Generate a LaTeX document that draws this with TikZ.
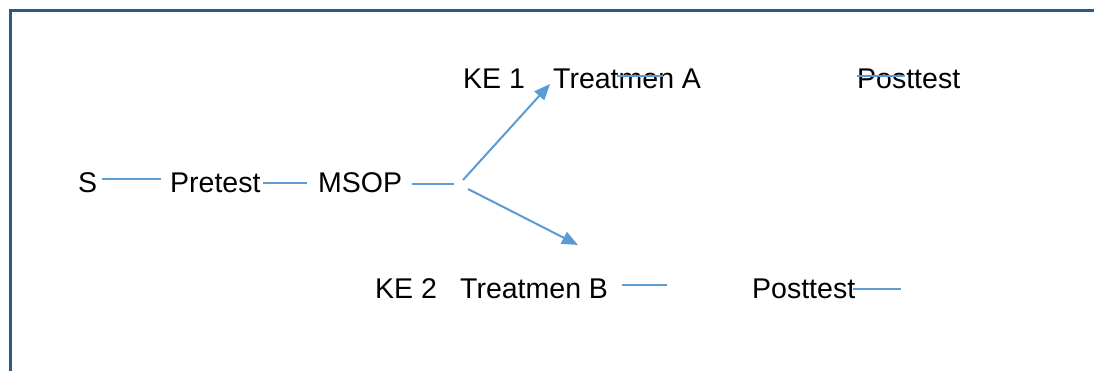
\documentclass[tikz,border=0pt]{standalone}
\usepackage{fontspec}
\setmainfont{Liberation Sans}
\usetikzlibrary{arrows.meta}
\definecolor{framecol}{RGB}{44,90,134}
\definecolor{linecol}{RGB}{91,155,213}
\begin{document}
\begin{tikzpicture}[x=1pt,y=-1pt,
  lbl/.style={anchor=base west,inner sep=0pt,font=\fontsize{28.5}{30}\selectfont},
  thin line/.style={draw=linecol,line width=1.3pt},
  branch/.style={draw=linecol,line width=2pt,-{Triangle[length=16pt,width=13pt]}},
  frame/.style={draw=framecol,line width=2.5pt}]
\useasboundingbox (0,0) rectangle (1094,370);
\draw[frame] (10.5,371) -- (10.5,10.5) -- (1095,10.5);
% texts
\node[lbl] (s) at (78,192) {S};
\node[lbl] (pre) at (170,192) {Pretest};
\node[lbl] (msop) at (318,192) {MSOP};
\node[lbl] (ke1) at (463,88) {KE 1};
\node[lbl] (ta) at (553,88) {Treatmen A};
\node[lbl] (posta) at (857,88) {Posttest};
\node[lbl] (ke2) at (375,298) {KE 2};
\node[lbl] (tb) at (460,298) {Treatmen B};
\node[lbl] (postb) at (752,298) {Posttest};
% line coordinates
\coordinate (l1a) at (102,179); \coordinate (l1b) at (161,179);
\coordinate (l2a) at (263,183); \coordinate (l2b) at (307,183);
\coordinate (l3a) at (412,184); \coordinate (l3b) at (454,184);
\coordinate (l4a) at (617,76);  \coordinate (l4b) at (663,76);
\coordinate (l5a) at (857,76);  \coordinate (l5b) at (905,76);
\coordinate (l6a) at (622,285); \coordinate (l6b) at (667,285);
\coordinate (l7a) at (853,289); \coordinate (l7b) at (901,289);
\coordinate (up0) at (463,180); \coordinate (up1) at (550,84);
\coordinate (dn0) at (468,189); \coordinate (dn1) at (578,245);
\draw[thin line] (l1a) -- (l1b);
\draw[thin line] (l2a) -- (l2b);
\draw[thin line] (l3a) -- (l3b);
\draw[thin line] (l4a) -- (l4b);
\draw[thin line] (l5a) -- (l5b);
\draw[thin line] (l6a) -- (l6b);
\draw[thin line] (l7a) -- (l7b);
\draw[branch] (up0) -- (up1);
\draw[branch] (dn0) -- (dn1);
\end{tikzpicture}
\end{document}
